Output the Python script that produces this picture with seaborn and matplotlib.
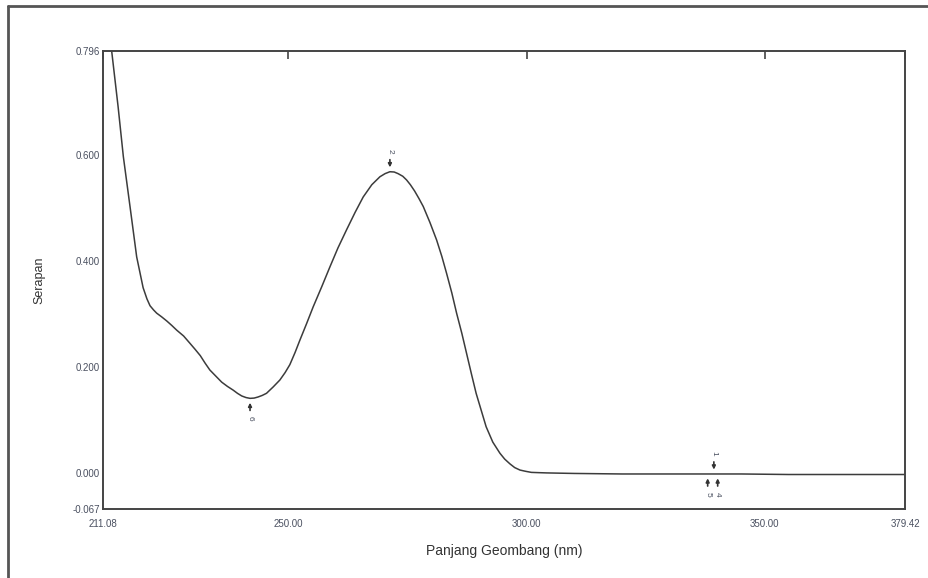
import matplotlib
matplotlib.use("Agg")
import matplotlib.pyplot as plt
import seaborn as sns
import pandas as pd
from matplotlib.lines import Line2D

# Data
wavelength = [212.9, 214.25, 215.35, 216.75, 218.15, 219.5, 220.3, 220.95, 221.7, 222.35,
              223.4, 224.5, 225.5, 226.55, 228.0, 229.35, 230.4, 231.5, 232.5, 233.5,
              234.8, 236.0, 237.2, 238.4, 239.3, 240.2, 241.1, 241.94, 242.8, 243.6,
              244.5, 245.4, 246.8, 248.2, 249.3, 250.3, 251.4, 252.4, 253.8, 255.2,
              257.0, 258.7, 260.4, 262.2, 264.0, 265.7, 267.5, 269.2, 270.3, 271.3,
              272.2, 273.0, 274.0, 274.8, 275.6, 276.5, 277.4, 278.3, 279.7, 281.1,
              282.2, 283.2, 284.3, 285.3, 286.4, 287.4, 288.4, 289.4, 290.5, 291.5,
              292.9, 294.4, 295.4, 296.5, 297.5, 298.6, 299.8, 301.0, 302.5, 304.2,
              307.0, 310.0, 320.0, 330.0, 338.0, 339.3, 340.1, 345.0, 355.0, 365.0,
              379.42]
absorbance = [0.796, 0.691, 0.597, 0.503, 0.408, 0.350, 0.329, 0.316, 0.308, 0.302,
              0.295, 0.287, 0.279, 0.270, 0.259, 0.245, 0.234, 0.222, 0.208, 0.195,
              0.183, 0.172, 0.164, 0.157, 0.151, 0.146, 0.143, 0.1415, 0.142, 0.144,
              0.147, 0.151, 0.163, 0.176, 0.190, 0.205, 0.228, 0.251, 0.282, 0.314,
              0.352, 0.389, 0.425, 0.459, 0.492, 0.521, 0.544, 0.559, 0.565, 0.5685,
              0.568, 0.565, 0.560, 0.553, 0.544, 0.532, 0.518, 0.503, 0.473, 0.440,
              0.409, 0.377, 0.340, 0.302, 0.264, 0.226, 0.188, 0.151, 0.118, 0.088,
              0.059, 0.038, 0.027, 0.018, 0.011, 0.0064, 0.004, 0.002, 0.0015, 0.001,
              0.0005, 0.000, -0.001, -0.001, -0.001, -0.001, -0.001, -0.001, -0.002, -0.002,
              -0.002]

peak_labels = ["2", "1"]
peak_x = [271.3, 339.3]
peak_y = [0.5685, -0.001]
valley_labels = ["6", "5", "4"]
valley_x = [241.94, 338.0, 340.1]
valley_y = [0.1415, -0.001, -0.001]

x_ticks = [211.08, 250.00, 300.00, 350.00, 379.42]
y_ticks = [0.796, 0.600, 0.400, 0.200, 0.000, -0.067]

df = pd.DataFrame({"wl": wavelength, "abs": absorbance})

sns.set_theme(style="white")
plt.rcParams['font.family'] = ['Liberation Sans', 'DejaVu Sans']

fig = plt.figure(figsize=(9.29, 5.78), dpi=100)
ax = fig.add_axes([103/929, 1-509/578, (905-103)/929, (509-51)/578])

sns.lineplot(data=df, x="wl", y="abs", ax=ax, color="#3c3c3c", linewidth=1.1, sort=False,
             solid_joinstyle="round")

ax.set_xlim(x_ticks[0], x_ticks[-1])
ax.set_ylim(y_ticks[-1], y_ticks[0])
ax.set_xticks(x_ticks)
ax.set_xticklabels([f"{v:.2f}" for v in x_ticks])
ax.set_yticks(y_ticks)
ax.set_yticklabels([f"{v:.3f}" for v in y_ticks])
ax.tick_params(axis="both", direction="in", length=6, width=1.2, color="#444444",
               labelsize=7, labelcolor="#4a5060", top=True, right=False)
ax.tick_params(axis="x", pad=7)
ax.tick_params(axis="y", pad=2)
for s in ax.spines.values():
    s.set_color("#444444")
    s.set_linewidth(1.4)

ax.set_xlabel("Panjang Geombang (nm)", fontsize=10, color="#333333", labelpad=11)
ax.set_ylabel("Serapan", fontsize=9, color="#333333", labelpad=20)

# peak / valley markers
for lab, xv, yv in zip(peak_labels, peak_x, peak_y):
    ax.annotate("", xy=(xv, yv + 0.003), xytext=(xv, yv + 0.028),
                arrowprops=dict(arrowstyle="-|>", color="#333333", lw=1.2, mutation_scale=5))
    ax.text(xv, yv + 0.034, lab, rotation=-90, ha="center", va="bottom", fontsize=6, color="#4a5060")
for lab, xv, yv in zip(valley_labels, valley_x, valley_y):
    ax.annotate("", xy=(xv, yv - 0.003), xytext=(xv, yv - 0.028),
                arrowprops=dict(arrowstyle="-|>", color="#333333", lw=1.2, mutation_scale=5))
    ax.text(xv, yv - 0.034, lab, rotation=-90, ha="center", va="top", fontsize=6, color="#4a5060")

# outer frame
fig.add_artist(Line2D([8/929, 8/929], [0, 1-6/578], transform=fig.transFigure, color="#555555", lw=2))
fig.add_artist(Line2D([8/929, 1], [1-6/578, 1-6/578], transform=fig.transFigure, color="#555555", lw=2))

fig.savefig("out.png", dpi=100)
